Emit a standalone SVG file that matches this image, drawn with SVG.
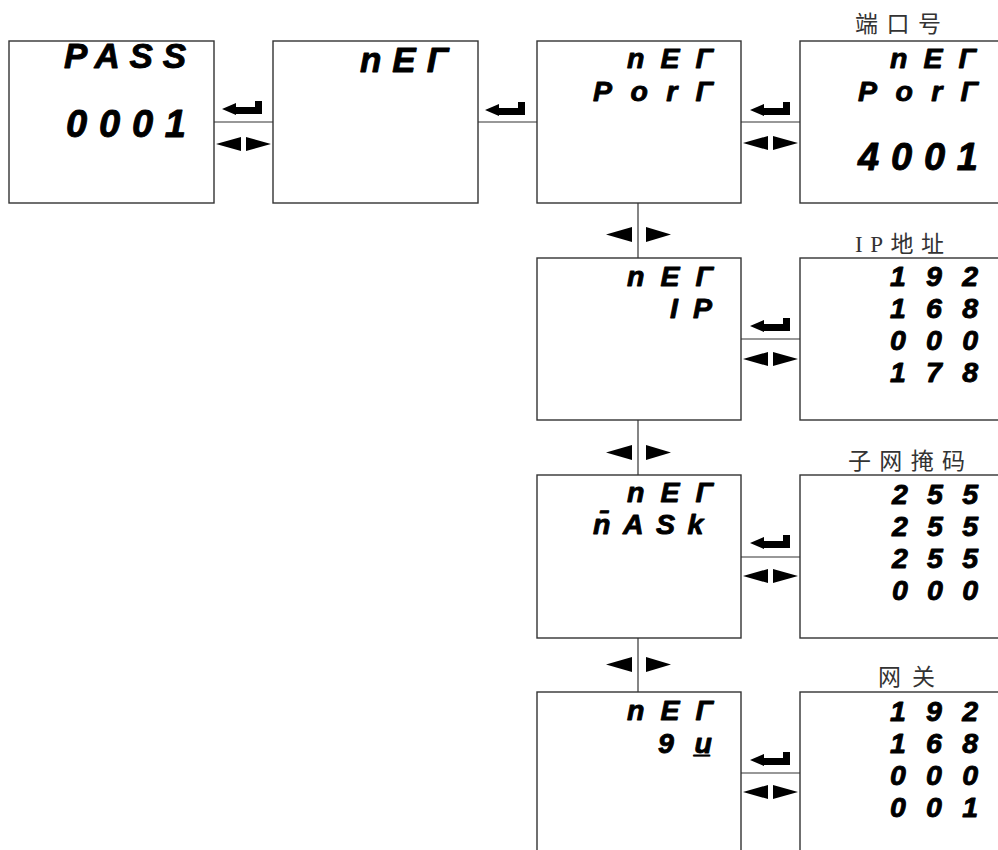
<svg xmlns="http://www.w3.org/2000/svg" width="998" height="850" viewBox="0 0 998 850">
<style>
.box{fill:#fff;stroke:#333;stroke-width:1.4}
.ln{stroke:#333;stroke-width:1.2;fill:none}
.seg{font-family:"Liberation Sans","DejaVu Sans",sans-serif;font-weight:bold;font-style:italic;fill:#000;stroke:#000;stroke-width:0.9;stroke-linejoin:round}
.dg{font-size:38px}
.lt{font-size:35px}
.st{font-size:28.5px}
.lab{font-family:"Liberation Serif","Noto Sans CJK SC",serif;font-size:23px;fill:#333}
.sym{fill:#000}
</style>
<defs>
<path id="enter" d="M0,8 L14,2 L14,6 L33,6 L33,0 L40,0 L40,13 L14,13 L14,14 Z"/>
<g id="lr"><path d="M0,7 L25,0 L25,14 Z"/><path d="M30,0 L55,7 L30,14 Z"/></g>
<g id="lrv"><path d="M0,7.5 L26,0 L26,15 Z"/><path d="M40,0 L65,7.5 L40,15 Z"/></g>
</defs>
<g id="connectors">
<line class="ln" x1="214" y1="122" x2="273" y2="122"/>
<line class="ln" x1="478" y1="122" x2="537" y2="122"/>
<line class="ln" x1="741" y1="122" x2="800" y2="122"/>
<line class="ln" x1="741" y1="339" x2="800" y2="339"/>
<line class="ln" x1="741" y1="557" x2="800" y2="557"/>
<line class="ln" x1="741" y1="773" x2="800" y2="773"/>
<line class="ln" x1="638" y1="203" x2="638" y2="258"/>
<line class="ln" x1="638" y1="420" x2="638" y2="475"/>
<line class="ln" x1="638" y1="638" x2="638" y2="692"/>
<g class="sym">
<use href="#enter" x="222" y="101"/>
<use href="#lr" x="216" y="137"/>
<use href="#enter" x="485" y="102"/>
<use href="#enter" x="750" y="102"/>
<use href="#lr" x="743" y="136"/>
<use href="#enter" x="750" y="318"/>
<use href="#lr" x="743" y="352"/>
<use href="#enter" x="750" y="535"/>
<use href="#lr" x="743" y="569"/>
<use href="#enter" x="750" y="752"/>
<use href="#lr" x="743" y="785"/>
<use href="#lrv" x="606" y="227"/>
<use href="#lrv" x="606" y="445"/>
<use href="#lrv" x="606" y="657"/>
</g>
</g>
<g id="n1">
<rect class="box" x="9" y="41" width="205" height="162"/>
<text class="seg lt" x="64" y="68" textLength="122" lengthAdjust="spacing">PASS</text>
<text class="seg dg" x="66" y="137" textLength="120" lengthAdjust="spacing">0001</text>
</g>
<g id="n2">
<rect class="box" x="273" y="41" width="205" height="162"/>
<text class="seg lt" x="360" y="72" textLength="88" lengthAdjust="spacing">nEΓ</text>
</g>
<g id="n3">
<rect class="box" x="537" y="41" width="204" height="162"/>
<text class="seg st" x="627" y="68" textLength="86" lengthAdjust="spacing">nEΓ</text>
<text class="seg st" x="593" y="101" textLength="120" lengthAdjust="spacing">PorΓ</text>
</g>
<g id="n4">
<text class="lab" x="855" y="32" textLength="86" lengthAdjust="spacing">端口号</text>
<rect class="box" x="800" y="41" width="204" height="162"/>
<text class="seg st" x="890" y="68" textLength="86" lengthAdjust="spacing">nEΓ</text>
<text class="seg st" x="858" y="101" textLength="120" lengthAdjust="spacing">PorΓ</text>
<text class="seg dg" x="858" y="170" textLength="120" lengthAdjust="spacing">4001</text>
</g>
<g id="n5">
<rect class="box" x="537" y="258" width="204" height="162"/>
<text class="seg st" x="627" y="286" textLength="86" lengthAdjust="spacing">nEΓ</text>
<text class="seg st" x="670" y="318" textLength="42" lengthAdjust="spacing">IP</text>
</g>
<g id="n6">
<text class="lab" x="855" y="252" textLength="89" lengthAdjust="spacing">IP地址</text>
<rect class="box" x="800" y="258" width="204" height="162"/>
<text class="seg st" x="890" y="286" textLength="88" lengthAdjust="spacing">192</text>
<text class="seg st" x="890" y="318" textLength="88" lengthAdjust="spacing">168</text>
<text class="seg st" x="890" y="350" textLength="88" lengthAdjust="spacing">000</text>
<text class="seg st" x="890" y="382" textLength="88" lengthAdjust="spacing">178</text>
</g>
<g id="n7">
<rect class="box" x="537" y="475" width="204" height="163"/>
<text class="seg st" x="627" y="502" textLength="86" lengthAdjust="spacing">nEΓ</text>
<text class="seg st" x="593" y="534" letter-spacing="12.5">n̄ASk</text>
</g>
<g id="n8">
<text class="lab" x="848" y="469" textLength="117" lengthAdjust="spacing">子网掩码</text>
<rect class="box" x="800" y="475" width="204" height="163"/>
<text class="seg st" x="892" y="504" textLength="86" lengthAdjust="spacing">255</text>
<text class="seg st" x="892" y="536" textLength="86" lengthAdjust="spacing">255</text>
<text class="seg st" x="892" y="568" textLength="86" lengthAdjust="spacing">255</text>
<text class="seg st" x="892" y="600" textLength="86" lengthAdjust="spacing">000</text>
</g>
<g id="n9">
<rect class="box" x="537" y="692" width="204" height="170"/>
<text class="seg st" x="627" y="720" textLength="86" lengthAdjust="spacing">nEΓ</text>
<text class="seg st" x="658" y="753" textLength="54" lengthAdjust="spacing">9u̲</text>
</g>
<g id="n10">
<text class="lab" x="878" y="685" textLength="57" lengthAdjust="spacing">网关</text>
<rect class="box" x="800" y="692" width="204" height="170"/>
<text class="seg st" x="890" y="721" textLength="88" lengthAdjust="spacing">192</text>
<text class="seg st" x="890" y="753" textLength="88" lengthAdjust="spacing">168</text>
<text class="seg st" x="890" y="785" textLength="88" lengthAdjust="spacing">000</text>
<text class="seg st" x="890" y="817" textLength="88" lengthAdjust="spacing">001</text>
</g>
</svg>
